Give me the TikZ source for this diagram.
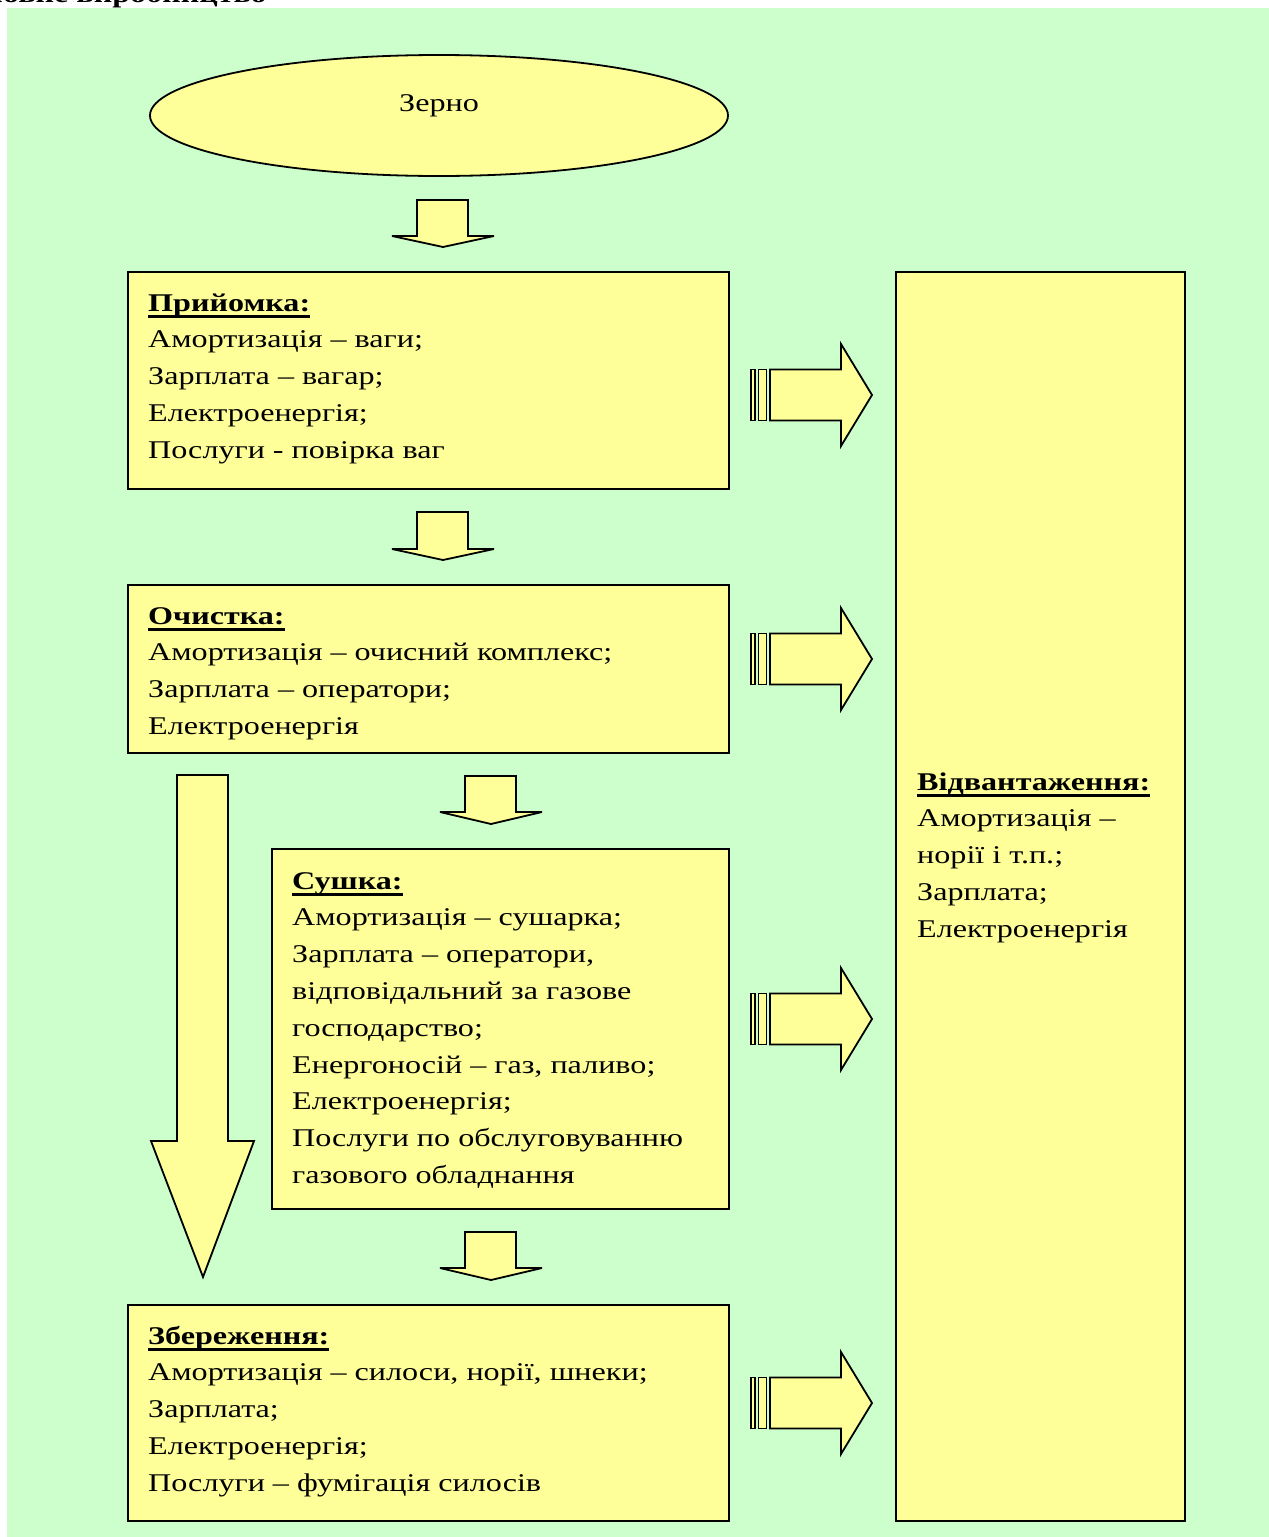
\documentclass[tikz,border=0pt]{standalone}
\usepackage{fontspec}
\setmainfont{Liberation Serif}[FakeStretch=1.26]
\usetikzlibrary{shapes.geometric}
\definecolor{bggreen}{HTML}{CCFFCC}
\definecolor{boxyellow}{HTML}{FFFF99}
\newcommand\hdul[1]{\leavevmode\setbox0\hbox{\bfseries #1}\rlap{\rule[-6.5pt]{\wd0}{2.8pt}}\box0}
\begin{document}
\begin{tikzpicture}[x=1pt,y=-1pt,
  box/.style={draw=black, line width=2.2pt, fill=boxyellow, rectangle, inner sep=0pt, anchor=north west},
  blockarrow/.style={draw=black, line width=1.8pt, fill=boxyellow, line join=miter, miter limit=4},
  txt/.style={anchor=base west, inner sep=0pt, font=\fontsize{25.5}{36.8}\selectfont},
  every node/.append style={font=\fontsize{25.5}{36.8}\selectfont}]
\useasboundingbox (0,0) rectangle (1269,1537);
\fill[white] (0,0) rectangle (1269,1537);
\fill[bggreen] (7,8) rectangle (1269,1537);
\begin{scope}
\clip (0,0) rectangle (1269,8);
\node[anchor=base east, inner sep=0pt, font=\fontsize{25.5}{36.8}\selectfont\bfseries] (title) at (267,2) {Основне виробництво};
\end{scope}

% ellipse
\node[draw=black, ellipse, line width=1.8pt, fill=boxyellow, minimum width=578pt, minimum height=121pt, inner sep=0pt] (zerno) at (439,115.5) {};
\node[anchor=base, inner sep=0pt] (zernotxt) at (439,111) {Зерно};

% boxes
\node[box, minimum width=601pt, minimum height=217pt] (b1) at (127,271) {};
\node[box, minimum width=601pt, minimum height=168pt] (b2) at (127,584) {};
\node[box, minimum width=457pt, minimum height=360pt] (b3) at (271,848) {};
\node[box, minimum width=601pt, minimum height=216pt] (b4) at (127,1304) {};
\node[box, minimum width=289pt, minimum height=1249pt] (b5) at (895,271) {};

% texts
\node[txt] (t1) at (148,311) {\parbox[t]{570pt}{\hdul{Прийомка:}\\Амортизація – ваги;\\Зарплата – вагар;\\Електроенергія;\\Послуги - повірка ваг}};
\node[txt] (t2) at (148,624) {\parbox[t]{570pt}{\hdul{Очистка:}\\Амортизація – очисний комплекс;\\Зарплата – оператори;\\Електроенергія}};
\node[txt] (t3) at (292,889) {\parbox[t]{430pt}{\hdul{Сушка:}\\Амортизація – сушарка;\\Зарплата – оператори,\\відповідальний за газове\\господарство;\\Енергоносій – газ, паливо;\\Електроенергія;\\Послуги по обслуговуванню\\газового обладнання}};
\node[txt] (t4) at (148,1344) {\parbox[t]{570pt}{\hdul{Збереження:}\\Амортизація – силоси, норії, шнеки;\\Зарплата;\\Електроенергія;\\Послуги – фумігація силосів}};
\node[txt] (t5) at (917,790) {\parbox[t]{260pt}{\hdul{Відвантаження:}\\Амортизація –\\норії і т.п.;\\Зарплата;\\Електроенергія}};

% down block arrows
\draw[blockarrow] (417,200) -- (468,200) -- (468,236) -- (494,236) -- (443,247) -- (392,236) -- (417,236) -- cycle;
\draw[blockarrow] (417,512) -- (468,512) -- (468,549) -- (494,549) -- (443,560) -- (392,549) -- (417,549) -- cycle;
\draw[blockarrow] (465,776) -- (516,776) -- (516,812) -- (542,812) -- (491,824) -- (440,812) -- (465,812) -- cycle;
\draw[blockarrow] (465,1232) -- (516,1232) -- (516,1268) -- (542,1268) -- (491,1280) -- (440,1268) -- (465,1268) -- cycle;
% long arrow
\draw[blockarrow] (177,775) -- (228,775) -- (228,1141) -- (254,1141) -- (203,1277) -- (151,1141) -- (177,1141) -- cycle;

% striped right arrows
\foreach \c in {395,659,1019,1403}{
  \draw[blockarrow] (751,\c-25.5) rectangle (755,\c+25.5);
  \draw[blockarrow] (758.5,\c-25.5) rectangle (766.5,\c+25.5);
  \draw[blockarrow] (770,\c-25.5) -- (841,\c-25.5) -- (841,\c-51) -- (872,\c) -- (841,\c+51) -- (841,\c+25.5) -- (770,\c+25.5) -- cycle;
}
\end{tikzpicture}
\end{document}
